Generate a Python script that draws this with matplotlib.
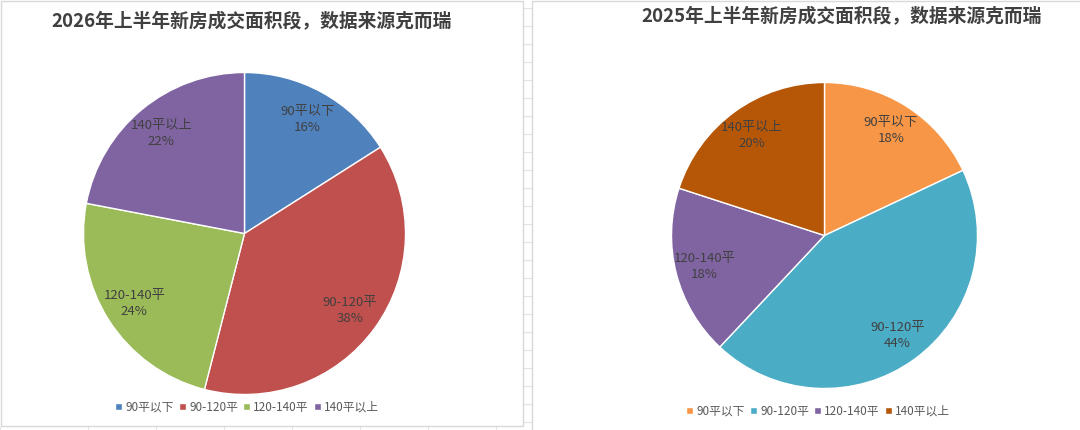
import matplotlib
matplotlib.use('Agg')
import matplotlib.pyplot as plt
from matplotlib.lines import Line2D
from matplotlib.patches import Rectangle
import numpy as np

plt.rcParams['font.family'] = ['Noto Sans CJK SC', 'DejaVu Sans']

# 数据
categories = ['90平以下', '90-120平', '120-140平', '140平以上']
share_2026 = [16, 38, 24, 22]
share_2025 = [18, 44, 18, 20]
colors_2026 = ['#4F81BD', '#C0504D', '#9BBB59', '#8064A2']
colors_2025 = ['#F79646', '#4BACC6', '#8064A2', '#B65708']
title_2026 = '2026年上半年新房成交面积段，数据来源克而瑞'
title_2025 = '2025年上半年新房成交面积段，数据来源克而瑞'

W, H = 1080, 430
fig = plt.figure(figsize=(W / 100, H / 100), dpi=100)
fig.patch.set_facecolor('white')


def px_axes(cx, cy, r):
    # cx, cy 以像素为单位（左上角为原点）
    return fig.add_axes([(cx - r) / W, (H - cy - r) / H, 2 * r / W, 2 * r / H])


def draw_pie(ax, values, colors):
    labels = [f'{c}\n{v}%' for c, v in zip(categories, values)]
    wedges, texts = ax.pie(values, labels=labels, colors=colors, startangle=90,
                           counterclock=False, labeldistance=0.81,
                           wedgeprops=dict(edgecolor='white', linewidth=1.0),
                           textprops=dict(fontsize=9.5, color='#404040', linespacing=1.3))
    for t in texts:
        t.set_horizontalalignment('center')
        t.set_verticalalignment('center')
    ax.set_xlim(-1.0, 1.0)
    ax.set_ylim(-1.0, 1.0)
    ax.set_aspect('equal')
    ax.axis('off')
    return wedges


# 表格背景线
grid_color = '#E3E3E3'
for y in np.arange(8, 430, 18):
    fig.add_artist(Line2D([523 / W, 532 / W], [1 - y / H, 1 - y / H], color=grid_color,
                          lw=0.8, zorder=-2))
for x in [0, 88, 156, 224, 292, 360, 428, 496]:
    fig.add_artist(Line2D([x / W, x / W], [0, 1 - 427 / H], color=grid_color, lw=0.8, zorder=-2))

# 图表边框
fig.add_artist(Rectangle((0.5 / W, 1 - 426 / H), 522 / W, 425.5 / H, transform=fig.transFigure,
                         facecolor='white', edgecolor='#D9D9D9', lw=1.0, zorder=-1))
fig.add_artist(Rectangle((532 / W, -0.01), 560 / W, 1 - 0.5 / H + 0.01, transform=fig.transFigure,
                         facecolor='white', edgecolor='#D9D9D9', lw=1.0, zorder=-1))

ax1 = px_axes(244.5, 233.5, 161)
w1 = draw_pie(ax1, share_2026, colors_2026)
ax2 = px_axes(824.5, 235.5, 153)
w2 = draw_pie(ax2, share_2025, colors_2025)

fig.text(252 / W, 1 - 21 / H, title_2026, ha='center', va='center', fontsize=13.5,
         fontweight='bold', color='#404040')
fig.text(842 / W, 1 - 16 / H, title_2025, ha='center', va='center', fontsize=13.5,
         fontweight='bold', color='#404040')

leg_kw = dict(ncol=4, frameon=False, fontsize=8.5, handlelength=0.6, handleheight=0.6,
              handletextpad=0.3, columnspacing=0.4, labelcolor='#595959', loc='center')
fig.legend(w1, categories, bbox_to_anchor=(247 / W, 1 - 407 / H), **leg_kw)
fig.legend(w2, categories, bbox_to_anchor=(818 / W, 1 - 411 / H), **leg_kw)

fig.savefig('out.png', dpi=100, facecolor='white')
